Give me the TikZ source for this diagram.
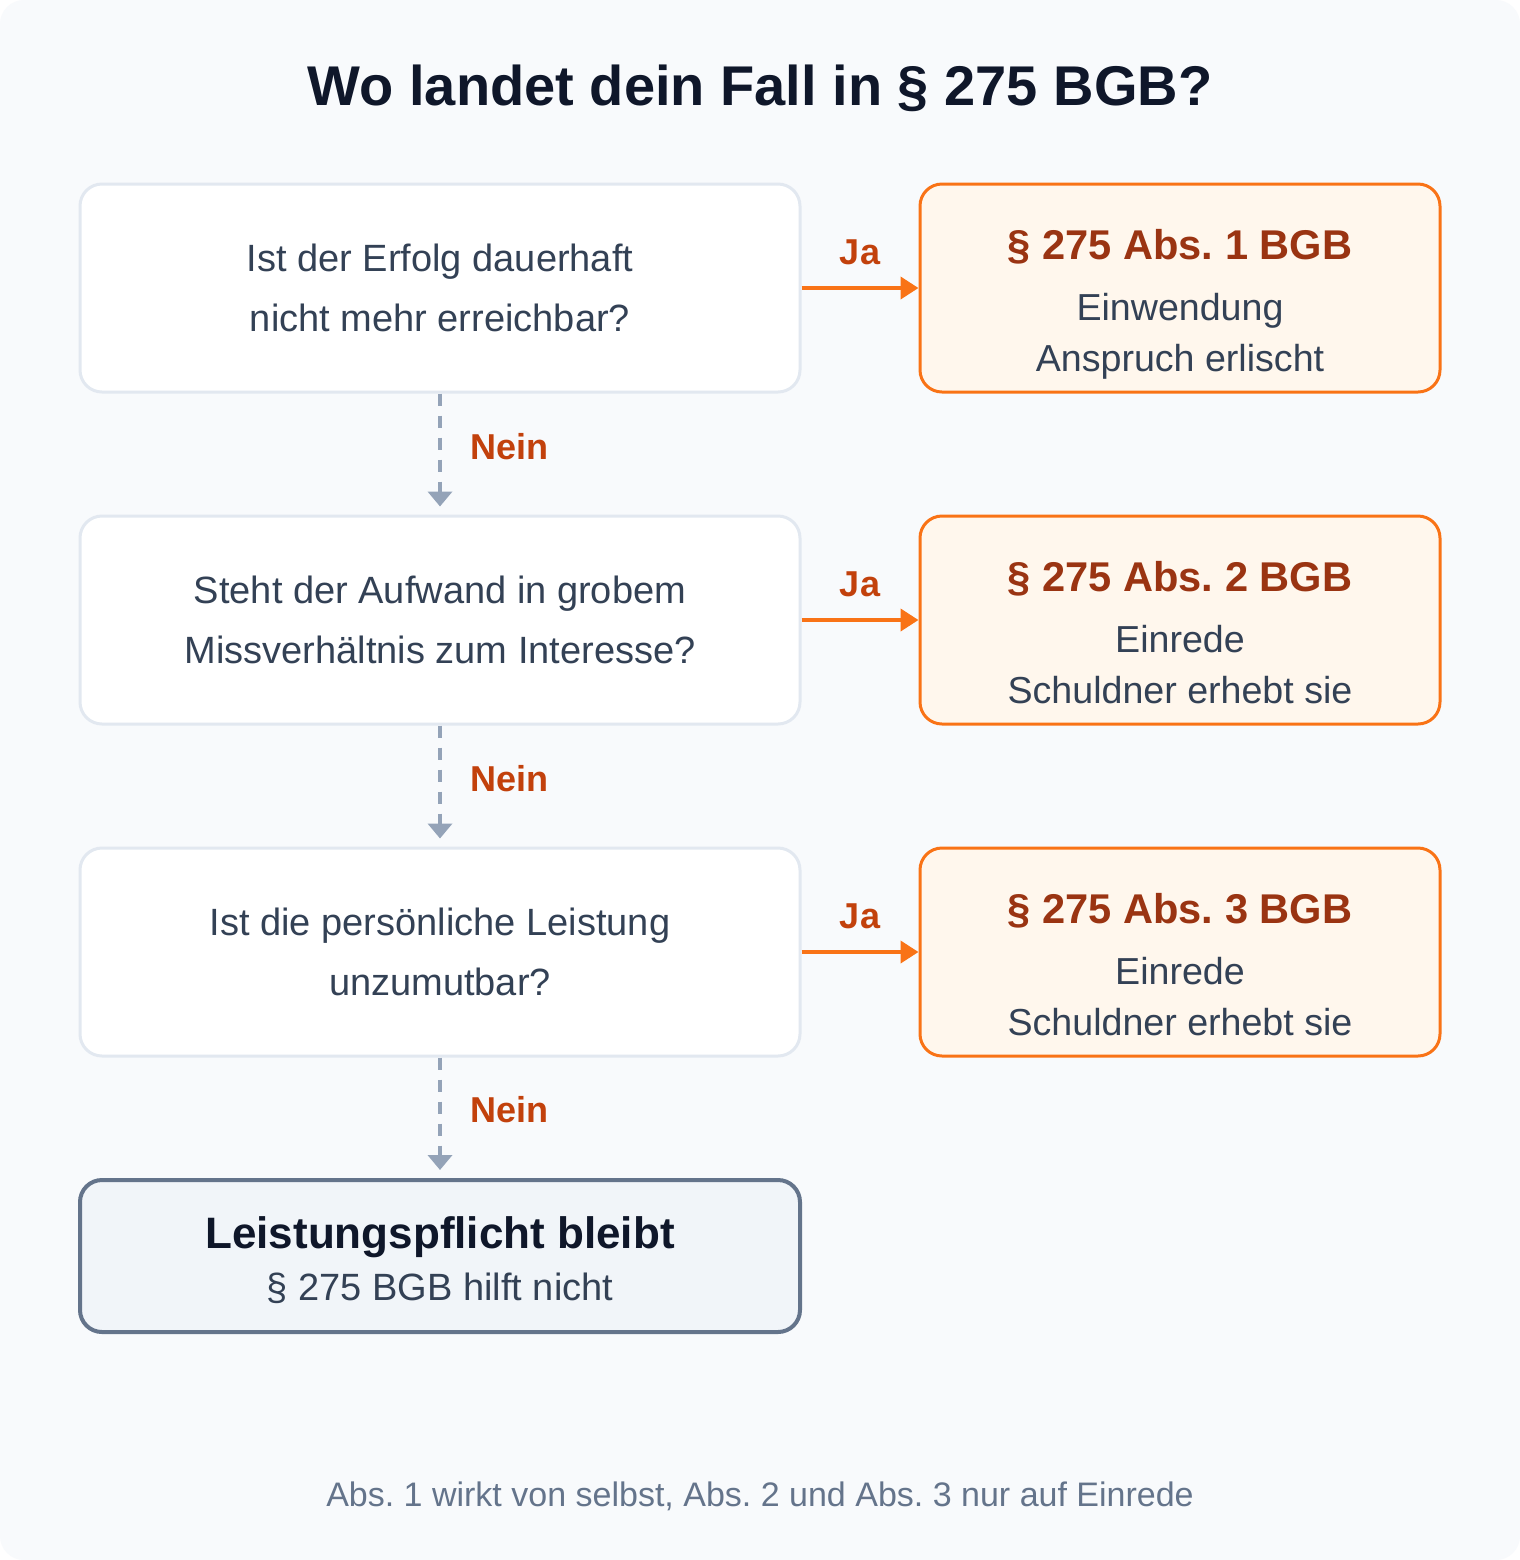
\documentclass[tikz,border=0pt]{standalone}
\usepackage{fontspec}
\setmainfont{Liberation Sans}
\usetikzlibrary{arrows.meta}
\frenchspacing

\definecolor{canvas}{HTML}{F8FAFC}
\definecolor{qline}{HTML}{E2E8F0}
\definecolor{qtext}{HTML}{334155}
\definecolor{oline}{HTML}{F97316}
\definecolor{ofill}{HTML}{FFF7ED}
\definecolor{otitle}{HTML}{9A3412}
\definecolor{answer}{HTML}{C2410C}
\definecolor{dashline}{HTML}{94A3B8}
\definecolor{endline}{HTML}{64748B}
\definecolor{endfill}{HTML}{F1F5F9}
\definecolor{dark}{HTML}{0F172A}

\begin{document}
\begin{tikzpicture}[x=0.5pt,y=-0.5pt,
    question/.style={draw=qline,fill=white,line width=1.5pt,rounded corners=11pt,
      minimum width=360pt,minimum height=104pt,align=center,text=qtext,
      font=\fontsize{19}{30}\selectfont},
    outcome/.style={draw=oline,fill=ofill,line width=1.5pt,rounded corners=11pt,
      minimum width=260pt,minimum height=104pt,align=center,text=qtext,
      font=\fontsize{18.8}{25.5}\selectfont},
    final/.style={draw=endline,fill=endfill,line width=2pt,rounded corners=11pt,
      minimum width=360pt,minimum height=76pt,align=center,text=qtext,
      font=\fontsize{19}{26}\selectfont},
    yes/.style={draw=oline,line width=2pt,-{Triangle[length=9pt,width=11pt]}},
    no/.style={draw=dashline,line width=2pt,dash pattern=on 6pt off 5pt,
      shorten >=4pt,-{Triangle[length=7.5pt,width=12pt]}},
    answerlabel/.style={text=answer,font=\fontsize{18}{22}\selectfont\bfseries}]

  % canvas
  \useasboundingbox (0,0) rectangle (1520,1560);
  \fill[white] (0,0) rectangle (1520,1560);
  \fill[canvas,rounded corners=12pt] (0,0) rectangle (1520,1560);

  \node[anchor=base,text=dark,font=\fontsize{28}{32}\selectfont\bfseries] (title) at (760,105)
    {Wo landet dein Fall in § 275 BGB?};

  \begin{scope}[every node/.style={question}]
    \node (q1) at (440,288) {Ist der Erfolg dauerhaft\\nicht mehr erreichbar?};
    \node (q2) at (440,620) {Steht der Aufwand in grobem\\Missverhältnis zum Interesse?};
    \node (q3) at (440,952) {Ist die persönliche Leistung\\unzumutbar?};
  \end{scope}

  \begin{scope}[every node/.style={outcome}]
    \node (r1) at (1180,288) {{\color{otitle}\fontsize{20.8}{25}\selectfont\bfseries\rule{0pt}{31pt}§ 275 Abs. 1 BGB}\\[5pt]Einwendung\\Anspruch erlischt\vphantom{p}};
    \node (r2) at (1180,620) {{\color{otitle}\fontsize{20.8}{25}\selectfont\bfseries\rule{0pt}{31pt}§ 275 Abs. 2 BGB}\\[5pt]Einrede\\Schuldner erhebt sie\vphantom{p}};
    \node (r3) at (1180,952) {{\color{otitle}\fontsize{20.8}{25}\selectfont\bfseries\rule{0pt}{31pt}§ 275 Abs. 3 BGB}\\[5pt]Einrede\\Schuldner erhebt sie\vphantom{p}};
  \end{scope}

  \node[final] (stay) at (440,1256)
    {{\color{dark}\fontsize{22}{26}\selectfont\bfseries\rule{0pt}{20pt}Leistungspflicht bleibt}\\§ 275 BGB hilft nicht};

  \begin{scope}[every node/.style={answerlabel}]
    \path (q1) edge[yes] node[anchor=base,yshift=12pt] {Ja} (r1);
    \path (q2) edge[yes] node[anchor=base,yshift=12pt] {Ja} (r2);
    \path (q3) edge[yes] node[anchor=base,yshift=12pt] {Ja} (r3);
    \path (q1) edge[no] node[anchor=base west,xshift=11pt,yshift=-2.5pt] {Nein} (q2);
    \path (q2) edge[no] node[anchor=base west,xshift=11pt,yshift=-2.5pt] {Nein} (q3);
    \path (q3) edge[no] node[anchor=base west,xshift=11pt,yshift=-2.5pt] {Nein} (stay);
  \end{scope}

  \node[anchor=base,text=endline,font=\fontsize{17}{20}\selectfont] (note) at (760,1506)
    {Abs. 1 wirkt von selbst, Abs. 2 und Abs. 3 nur auf Einrede};

\end{tikzpicture}
\end{document}
